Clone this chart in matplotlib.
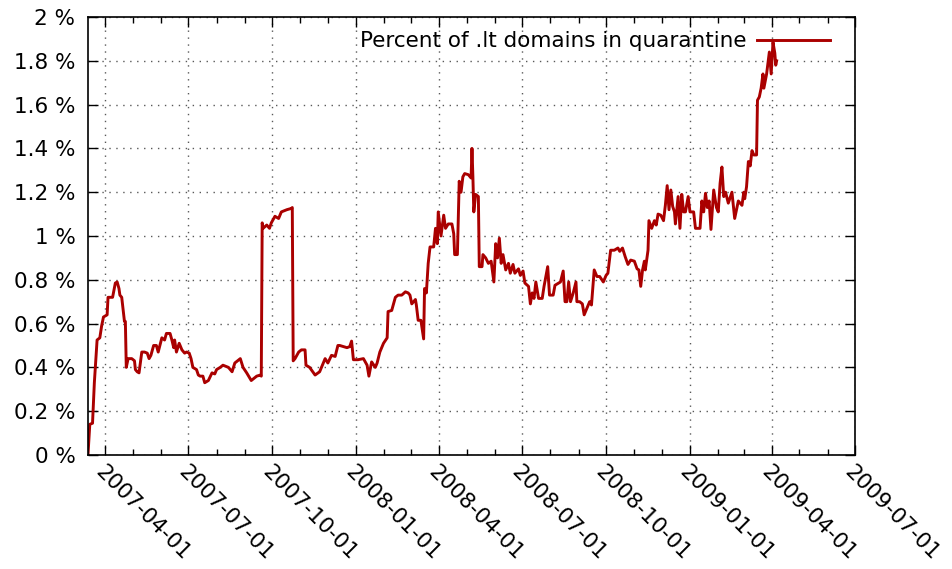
import pandas as pd
import matplotlib
matplotlib.use("Agg")
import matplotlib.pyplot as plt
import matplotlib.dates as mdates
from matplotlib.ticker import MultipleLocator, FuncFormatter

# Dias desde el 2007-03-13 y porcentaje de dominios .lt en cuarentena
start = pd.Timestamp("2007-03-13")
days = [0, 2, 5, 7, 10, 13, 15, 17, 21, 22, 26, 27, 30, 32, 34, 35, 37, 40, 41, 42,
        44, 48, 51, 52, 54, 56, 59, 62, 65, 67, 69, 72, 75, 77, 81, 84, 86, 90, 92, 94,
        95, 97, 100, 103, 106, 108, 111, 113, 115, 119, 121, 123, 126, 128, 132, 136, 139, 141, 145, 148,
        154, 158, 161, 167, 170, 174, 179, 185, 189, 190, 191, 192, 196, 199, 201, 205, 209, 212, 218, 223,
        224, 225, 227, 231, 234, 238, 239, 243, 249, 254, 260, 263, 267, 271, 274, 276, 280, 284, 287, 289,
        291, 296, 302, 306, 308, 311, 315, 317, 320, 324, 328, 329, 333, 337, 340, 344, 348, 351, 353, 355,
        359, 360, 362, 365, 368, 369, 371, 373, 375, 379, 381, 383, 384, 387, 390, 392, 395, 399, 401, 402,
        405, 407, 409, 411, 413, 417, 420, 421, 422, 423, 425, 428, 429, 432, 433, 436, 439, 442, 445, 447,
        449, 451, 453, 455, 458, 461, 463, 466, 468, 472, 474, 477, 479, 483, 485, 487, 489, 491, 494, 498,
        500, 504, 506, 510, 512, 516, 518, 521, 523, 525, 527, 529, 532, 535, 536, 539, 542, 544, 547, 550,
        552, 555, 558, 561, 565, 568, 570, 573, 577, 581, 583, 586, 589, 592, 595, 599, 602, 604, 606, 608,
        610, 611, 614, 615, 618, 621, 623, 625, 628, 631, 633, 635, 637, 639, 641, 643, 644, 647, 649, 651,
        653, 655, 658, 660, 664, 666, 671, 673, 675, 677, 679, 681, 683, 686, 689, 691, 693, 695, 697, 699,
        702, 706, 709, 713, 717, 719, 720, 722, 724, 726, 728, 730, 733, 734, 736, 738, 740, 741, 744, 747,
        749, 751, 753, 754, 755]
percent = [0.0, 0.14, 0.145, 0.33, 0.525, 0.535, 0.59, 0.63, 0.64, 0.72, 0.72, 0.72, 0.785, 0.79, 0.76, 0.73, 0.72, 0.61, 0.61, 0.40,
           0.44, 0.44, 0.43, 0.39, 0.38, 0.375, 0.47, 0.47, 0.465, 0.44, 0.455, 0.50, 0.50, 0.47, 0.535, 0.525, 0.555, 0.555, 0.525, 0.49,
           0.525, 0.47, 0.51, 0.48, 0.465, 0.47, 0.465, 0.44, 0.40, 0.39, 0.365, 0.36, 0.36, 0.33, 0.34, 0.375, 0.37, 0.39, 0.40, 0.41,
           0.40, 0.38, 0.42, 0.44, 0.40, 0.375, 0.34, 0.36, 0.365, 0.36, 1.06, 1.035, 1.05, 1.035, 1.06, 1.09, 1.08, 1.11, 1.12, 1.126,
           1.13, 0.43, 0.44, 0.47, 0.48, 0.48, 0.41, 0.40, 0.365, 0.38, 0.44, 0.42, 0.455, 0.45, 0.50, 0.50, 0.495, 0.49, 0.495, 0.52,
           0.435, 0.435, 0.44, 0.41, 0.36, 0.425, 0.40, 0.42, 0.47, 0.51, 0.535, 0.655, 0.66, 0.72, 0.73, 0.73, 0.745, 0.74, 0.73, 0.69,
           0.71, 0.685, 0.615, 0.615, 0.53, 0.76, 0.74, 0.875, 0.95, 0.95, 1.035, 0.965, 1.11, 1.0, 1.095, 1.035, 1.055, 1.055, 1.01, 0.915,
           0.915, 1.25, 1.20, 1.27, 1.285, 1.28, 1.265, 1.40, 1.27, 1.11, 1.19, 1.18, 0.86, 0.86, 0.915, 0.90, 0.875, 0.885, 0.79, 0.965,
           0.90, 0.99, 0.875, 0.915, 0.845, 0.875, 0.83, 0.87, 0.83, 0.85, 0.82, 0.84, 0.785, 0.77, 0.69, 0.74, 0.715, 0.79, 0.715, 0.715,
           0.77, 0.86, 0.73, 0.73, 0.775, 0.785, 0.79, 0.84, 0.70, 0.70, 0.79, 0.70, 0.74, 0.79, 0.70, 0.70, 0.69, 0.64, 0.67, 0.70,
           0.685, 0.845, 0.815, 0.815, 0.79, 0.82, 0.83, 0.935, 0.935, 0.945, 0.93, 0.945, 0.905, 0.87, 0.89, 0.885, 0.85, 0.845, 0.77, 0.845,
           0.885, 0.845, 0.935, 1.07, 1.035, 1.07, 1.05, 1.10, 1.095, 1.07, 1.14, 1.23, 1.12, 1.21, 1.135, 1.11, 1.055, 1.18, 1.035, 1.19,
           1.11, 1.11, 1.18, 1.11, 1.11, 1.035, 1.035, 1.16, 1.11, 1.195, 1.13, 1.16, 1.03, 1.21, 1.13, 1.11, 1.24, 1.315, 1.18, 1.20,
           1.15, 1.20, 1.08, 1.16, 1.14, 1.20, 1.17, 1.225, 1.34, 1.32, 1.39, 1.37, 1.37, 1.62, 1.635, 1.675, 1.74, 1.675, 1.74, 1.84,
           1.74, 1.885, 1.835, 1.78, 1.80]

fechas = start + pd.to_timedelta(days, unit="D")

plt.rcParams["font.family"] = "DejaVu Sans"
plt.rcParams["font.size"] = 15.5

fig = plt.figure(figsize=(9.52, 5.69), dpi=100)
ax = fig.add_axes([0.0924, 0.2004, 0.8058, 0.7697])

ax.plot(fechas, percent, color="#aa0000", linewidth=2.1,
        label="Percent of .lt domains in quarantine")

ax.set_xlim(start, pd.Timestamp("2009-07-01"))
ax.set_ylim(0, 2)

ax.xaxis.set_major_locator(mdates.MonthLocator(bymonth=[1, 4, 7, 10]))
ax.xaxis.set_minor_locator(mdates.MonthLocator())
ax.xaxis.set_major_formatter(mdates.DateFormatter("%Y-%m-%d"))
ax.yaxis.set_major_locator(MultipleLocator(0.2))
ax.yaxis.set_major_formatter(FuncFormatter(lambda v, p: f"{v:g} %"))

ax.tick_params(which="both", direction="in", top=True, right=True, width=1.0, colors="black")
ax.tick_params(which="major", length=7)
ax.tick_params(which="minor", length=4)
ax.tick_params(axis="x", which="major", pad=5)
ax.tick_params(axis="y", which="major", pad=9)
for lbl in ax.get_xticklabels():
    lbl.set_rotation(-45)
    lbl.set_ha("left")
    lbl.set_va("top")
    lbl.set_rotation_mode("anchor")

for s in ax.spines.values():
    s.set_linewidth(1.2)

ax.grid(True, which="major", color="0.35", linestyle=(0, (1, 4)), linewidth=1.0)

leg = ax.legend(loc="upper right", frameon=False, markerfirst=False,
                handlelength=3.4, handletextpad=0.5, borderaxespad=0.0,
                bbox_to_anchor=(0.979, 0.987))

plt.savefig("out.png", dpi=100)
